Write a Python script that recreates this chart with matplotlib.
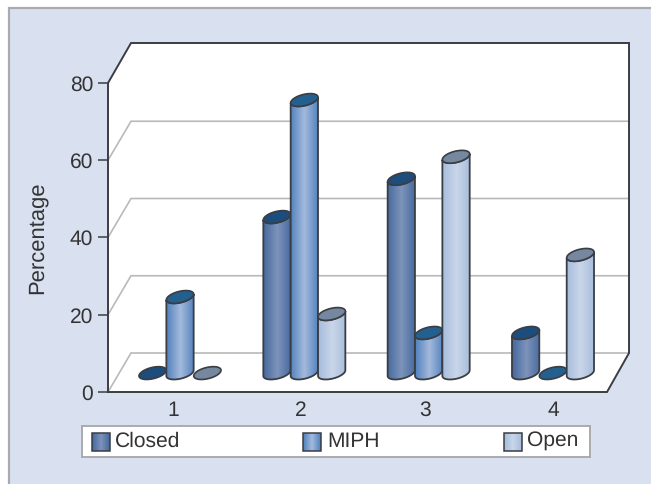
import numpy as np
import matplotlib
matplotlib.use("Agg")
import matplotlib.pyplot as plt
from matplotlib.patches import Rectangle, PathPatch, Polygon
from matplotlib.path import Path

plt.rcParams['font.family'] = ['Liberation Sans', 'DejaVu Sans']
plt.rcParams['text.hinting'] = 'none'
plt.rcParams['text.hinting_factor'] = 1

categories = ['1', '2', '3', '4']
closed = [0, 40.4, 50.3, 10.4]
miph = [19.7, 70.7, 10.4, 0]
open_ = [0, 15.3, 56, 30.6]
series_names = ['Closed', 'MIPH', 'Open']
y_ticks = [0, 20, 40, 60, 80]

W, H = 651, 484
txt = '#333333'
dark = '#3a3d44'
grid = '#b9b9b9'

# edge, centre, top colours for each series
colours = [('#44699f', '#7d93ba', '#1d4d7c'),
           ('#5080bd', '#a4badc', '#23608f'),
           ('#a6bcdc', '#c9d6e9', '#75889f')]

fig = plt.figure(figsize=(W / 100, H / 100), dpi=100, facecolor='white')

# background panel
fig.add_artist(Rectangle((9 / W, -0.01), 1, 1.01 - 8 / H, transform=fig.transFigure,
                         facecolor='#d9e1f0', edgecolor='#a9abae', lw=1.6, zorder=-1))

ax = fig.add_axes([108 / W, (H - 392) / H, 499 / W, 309 / H])
ux = 124.33
uy = 309 / 80
x0 = 1 - (180 - 108) / ux
x1 = 4 + (607 - 553) / ux
ax.patch.set_alpha(0)


def px(x, y):
    # image pixel to data
    return (x0 + (x - 108) / ux, (392 - y) / uy)


# walls and floor
wall = [px(108, 392), px(108, 83), px(131, 43), px(629, 43), px(629, 353), px(607, 392)]
ax.add_patch(Polygon(wall, closed=True, facecolor='white', edgecolor='none', clip_on=False, zorder=1))
for v in y_ticks[:-1]:
    yy = 392 - v * uy
    xs, ys = zip(px(108, yy), px(131, yy - 39), px(629, yy - 39))
    ax.plot(xs, ys, color=grid, lw=1.2, clip_on=False, zorder=1.5, solid_joinstyle='miter')
xs, ys = zip(px(108, 392), px(108, 83), px(131, 43), px(629, 43), px(629, 353), px(607, 392), px(108, 392))
ax.plot(xs, ys, color=dark, lw=1.4, clip_on=False, zorder=2, solid_joinstyle='miter')

# cylinders
a, b, tilt = 14.0, 5.6, np.radians(14)
t = np.linspace(0, 2 * np.pi, 81)
ex = a * np.cos(t) * np.cos(tilt) - b * np.sin(t) * np.sin(tilt)
ey = a * np.cos(t) * np.sin(tilt) + b * np.sin(t) * np.cos(tilt)
base = 4.9
spread = 27.5 / ux


def cylinder(xc, val, cols, z):
    top = base + val
    tx = xc + ex / ux
    if val > 0:
        # lower half of the ellipse, between its leftmost and rightmost points
        il, ir = np.argmin(ex), np.argmax(ex)
        idx = [k % 80 for k in range(il, ir + 80 + 1)] if ir < il else list(range(il, ir + 1))
        bx, by = ex[idx], ey[idx]
        body_x = np.r_[xc + bx / ux, xc + bx[::-1] / ux]
        body_y = np.r_[base + by / uy, top + by[::-1] / uy]
        verts = np.c_[body_x, body_y]
        verts = np.vstack([verts, verts[0]])
        codes = [Path.MOVETO] + [Path.LINETO] * (len(verts) - 2) + [Path.CLOSEPOLY]
        clip = PathPatch(Path(verts, codes), facecolor='none', edgecolor=dark, lw=1.3, zorder=z + 0.2)
        ax.add_patch(clip)
        c0 = np.array(matplotlib.colors.to_rgb(cols[0]))
        c1 = np.array(matplotlib.colors.to_rgb(cols[1]))
        s = np.abs(np.linspace(-1, 1, 64))[None, :, None]
        im = ax.imshow(c1 * (1 - s) + c0 * s, aspect='auto', zorder=z,
                       extent=[xc - a / ux, xc + a / ux, base - 2 * b / uy, top + 2 * b / uy])
        im.set_clip_path(clip)
    ax.fill(tx, top + ey / uy, facecolor=cols[2], edgecolor=dark, lw=1.2, zorder=z + 0.3)


z = 3
for i in range(len(categories)):
    for j, vals in enumerate([closed, miph, open_]):
        cylinder(i + 1 + (j - 1) * spread * 0.995, vals[i], colours[j], z)
        z += 1

ax.set_xlim(x0, x1)
ax.set_ylim(0, 80)
for s in ax.spines.values():
    s.set_visible(False)
ax.set_yticks(y_ticks)
ax.tick_params(axis='y', length=7.2, width=1.1, color=dark, labelsize=15.4, labelcolor=txt, pad=3.5)
ax.set_xticks([0.944, 1.974, 2.968, 4.0])
ax.set_xticklabels(categories)
ax.tick_params(axis='x', length=0, labelsize=15.4, labelcolor=txt, pad=6)
ax.set_ylabel('Percentage', fontsize=15.6, color=txt)
ax.yaxis.set_label_coords((47 - 108) / 499, (392 - 238) / 309)

# legend box
lg = fig.add_axes([82 / W, (H - 457) / H, 508 / W, 31 / H])
lg.set_xticks([])
lg.set_yticks([])
for s in lg.spines.values():
    s.set_color('#a9abae')
    s.set_linewidth(1.4)
for name, cols, sx, tx in zip(series_names, colours, [92, 303, 504], [115, 327, 527]):
    c0 = np.array(matplotlib.colors.to_rgb(cols[0]))
    c1 = np.array(matplotlib.colors.to_rgb(cols[1]))
    s = np.abs(np.linspace(-1, 1, 32))[None, :, None]
    lg.imshow(c1 * (1 - s) + c0 * s, aspect='auto', extent=[sx, sx + 18, 451, 433], zorder=2)
    lg.add_patch(Rectangle((sx, 433), 18, 18, facecolor='none', edgecolor=dark, lw=1.1, zorder=3))
    lg.text(tx, 441.5, name, fontsize=15.4, color=txt, va='center', ha='left')
lg.set_xlim(82, 590)
lg.set_ylim(457, 426)

fig.savefig('out.png', dpi=100)
